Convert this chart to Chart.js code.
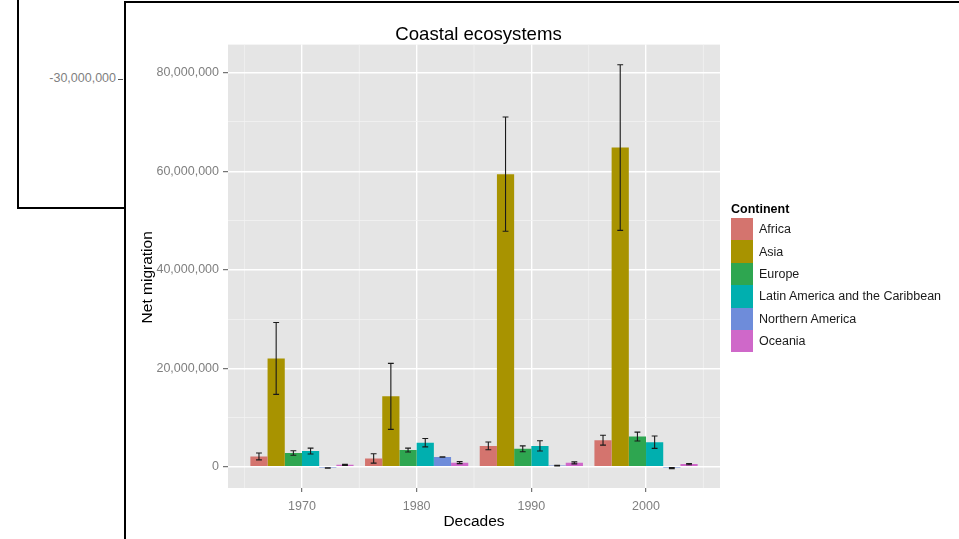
<!DOCTYPE html>
<html>
<head>
<meta charset="utf-8">
<script src="https://cdn.jsdelivr.net/npm/chart.js@4.4.1/dist/chart.umd.min.js"></script>
<style>
  html, body { margin: 0; padding: 0; width: 959px; height: 539px; overflow: hidden; background: #fff; }
  body { position: relative; font-family: 'Liberation Sans', Arial, sans-serif; }
  #backWin { position: absolute; left: 17px; top: -10px; width: 1400px; height: 215px; border: 2px solid #000; background: #fff; }
  #backLabel { position: absolute; left: 20px; top: 71px; width: 96px; text-align: right; font-size: 12.5px; color: #7f7f7f; }
  #backTick { position: absolute; left: 118px; top: 79px; width: 5px; height: 1px; background: #555; }
  #frontWin { position: absolute; left: 124px; top: 1px; width: 900px; height: 600px; border-left: 2px solid #000; border-top: 2px solid #000; background: #fff; }
  #chartBox { position: absolute; left: 0; top: 0; width: 959px; height: 539px; }
  #legend { position: absolute; left: 731px; top: 202px; font-size: 12.5px; color: #1a1a1a; }
  #legend .ttl { font-weight: bold; height: 16px; line-height: 15px; color: #000; }
  #legend .row { display: flex; align-items: center; height: 22.4px; }
  #legend .key { width: 22px; height: 22.4px; margin-right: 6px; }
</style>
</head>
<body>
<div id="backWin"></div>
<div id="backLabel">-30,000,000</div>
<div id="backTick"></div>
<div id="frontWin"></div>
<div id="chartBox"><canvas id="chart" width="959" height="539"></canvas></div>
<div id="legend"></div>

<script>
// decades on the x axis
const decades = ['1970', '1980', '1990', '2000'];

// net migration per continent (value and error bar half-length)
const africa = [2100000, 1700000, 4250000, 5400000];
const africaErr = [700000, 950000, 800000, 1000000];
const asia = [22000000, 14300000, 59400000, 64800000];
const asiaErr = [7300000, 6700000, 11600000, 16800000];
const europe = [2800000, 3400000, 3650000, 6150000];
const europeErr = [450000, 400000, 600000, 900000];
const latinAmerica = [3200000, 4900000, 4250000, 5000000];
const latinAmericaErr = [600000, 850000, 1050000, 1250000];
const northernAmerica = [-250000, 2000000, 250000, -250000];
const northernAmericaErr = [50000, 50000, 80000, 120000];
const oceania = [400000, 850000, 800000, 550000];
const oceaniaErr = [100000, 200000, 200000, 120000];

const yTicks = [0, 10000000, 20000000, 30000000, 40000000, 50000000, 60000000, 70000000, 80000000];

const continents = ['Africa', 'Asia', 'Europe', 'Latin America and the Caribbean', 'Northern America', 'Oceania'];
const colors = ['#D4746E', '#A89300', '#2EA650', '#00AFAF', '#6E8CDA', '#CF68C9'];
const values = [africa, asia, europe, latinAmerica, northernAmerica, oceania];
const errors = [africaErr, asiaErr, europeErr, latinAmericaErr, northernAmericaErr, oceaniaErr];

const font = "'Liberation Sans', Arial, sans-serif";

// grey panel + minor vertical grid lines
const panelPlugin = {
    id: 'panel',
    beforeDraw(chart) {
        const { ctx, chartArea: a, scales } = chart;
        ctx.save();
        ctx.fillStyle = '#E5E5E5';
        ctx.fillRect(a.left, a.top, a.right - a.left, a.bottom - a.top);
        ctx.strokeStyle = '#F2F2F2';
        ctx.lineWidth = 0.8;
        for (let i = 0; i <= decades.length; i++) {
            const x = scales.x.getPixelForValue(i + 0.5);
            ctx.beginPath();
            ctx.moveTo(x, a.top);
            ctx.lineTo(x, a.bottom);
            ctx.stroke();
        }
        ctx.restore();
    },
    afterDraw(chart) {
        // y axis title, a bit below the panel centre like the original
        const { ctx, chartArea: a, scales } = chart;
        ctx.save();
        ctx.translate(scales.y.left + 22, (a.top + a.bottom) / 2 + 11);
        ctx.rotate(-Math.PI / 2);
        ctx.fillStyle = '#000';
        ctx.font = '15.5px ' + font;
        ctx.textAlign = 'center';
        ctx.textBaseline = 'middle';
        ctx.fillText('Net migration', 0, 0);
        ctx.restore();
    }
};

// error bars on top of each bar
const errorBarPlugin = {
    id: 'errorBars',
    afterDatasetsDraw(chart) {
        const { ctx, scales } = chart;
        ctx.save();
        ctx.strokeStyle = '#1a1a1a';
        ctx.lineWidth = 1.1;
        chart.data.datasets.forEach((ds, i) => {
            const meta = chart.getDatasetMeta(i);
            meta.data.forEach((bar, j) => {
                const v = values[i][j];
                const e = errors[i][j];
                const y1 = scales.y.getPixelForValue(v + e);
                const y2 = scales.y.getPixelForValue(v - e);
                const cap = bar.width * 0.17;
                ctx.beginPath();
                ctx.moveTo(bar.x, y1);
                ctx.lineTo(bar.x, y2);
                ctx.moveTo(bar.x - cap, y1);
                ctx.lineTo(bar.x + cap, y1);
                ctx.moveTo(bar.x - cap, y2);
                ctx.lineTo(bar.x + cap, y2);
                ctx.stroke();
            });
        });
        ctx.restore();
    }
};

const datasets = continents.map((name, i) => ({
    label: name,
    data: values[i].map((v, j) => ({ x: j + 1, y: v })),
    backgroundColor: colors[i],
    borderWidth: 0,
    categoryPercentage: 0.9,
    barPercentage: 1
}));

new Chart(document.getElementById('chart'), {
    type: 'bar',
    data: { datasets: datasets },
    plugins: [panelPlugin, errorBarPlugin],
    options: {
        responsive: false,
        animation: false,
        layout: { padding: { left: 126, right: 128, top: 0, bottom: 0 } },
        plugins: {
            legend: { display: false },
            tooltip: { enabled: false },
            title: {
                display: true,
                text: 'Coastal ecosystems',
                color: '#000',
                font: { family: font, size: 18.6, weight: 'normal', lineHeight: 1 },
                padding: { top: 26, bottom: 0 }
            }
        },
        scales: {
            x: {
                type: 'linear',
                min: 0.355,
                max: 4.645,
                bounds: 'data',
                offset: false,
                afterBuildTicks: (s) => { s.ticks = decades.map((d, i) => ({ value: i + 1 })); },
                afterFit: (s) => { s.height = 51; },
                border: { display: false },
                grid: { offset: false, color: '#FFFFFF', lineWidth: 1.4, tickColor: '#555', tickLength: 4, tickWidth: 1 },
                ticks: {
                    color: '#7f7f7f',
                    font: { family: font, size: 12.5 },
                    padding: 7,
                    maxRotation: 0,
                    callback: (v) => decades[v - 1]
                },
                title: {
                    display: true,
                    text: 'Decades',
                    color: '#000',
                    font: { family: font, size: 15.5 },
                    padding: { top: 0, bottom: 8 }
                }
            },
            y: {
                type: 'linear',
                min: -4300000,
                max: 85700000,
                bounds: 'data',
                afterBuildTicks: (s) => { s.ticks = yTicks.map(v => ({ value: v })); },
                afterFit: (s) => { s.width = 102; },
                border: { display: false },
                grid: {
                    color: (c) => (c.tick && c.tick.value % 20000000 === 0) ? '#FFFFFF' : '#F2F2F2',
                    lineWidth: (c) => (c.tick && c.tick.value % 20000000 === 0) ? 1.4 : 0.8,
                    tickColor: (c) => (c.tick && c.tick.value % 20000000 === 0) ? '#555' : 'rgba(0,0,0,0)',
                    tickLength: 5,
                    tickWidth: 1
                },
                ticks: {
                    color: '#7f7f7f',
                    font: { family: font, size: 12.5 },
                    padding: 4,
                    callback: (v) => v % 20000000 === 0 ? v.toLocaleString('en-US') : ''
                },
                title: { display: false }
            },
            y2: {
                type: 'linear',
                position: 'right',
                afterFit: (s) => { s.width = 111; },
                border: { display: false },
                grid: { display: false, drawOnChartArea: false },
                ticks: { display: false }
            }
        }
    }
});

// legend built from the same series names and colours
const legend = document.getElementById('legend');
legend.innerHTML = '<div class="ttl">Continent</div>' + continents.map((name, i) =>
    `<div class="row"><div class="key" style="background:${colors[i]}"></div><span>${name}</span></div>`
).join('');
</script>
</body>
</html>
